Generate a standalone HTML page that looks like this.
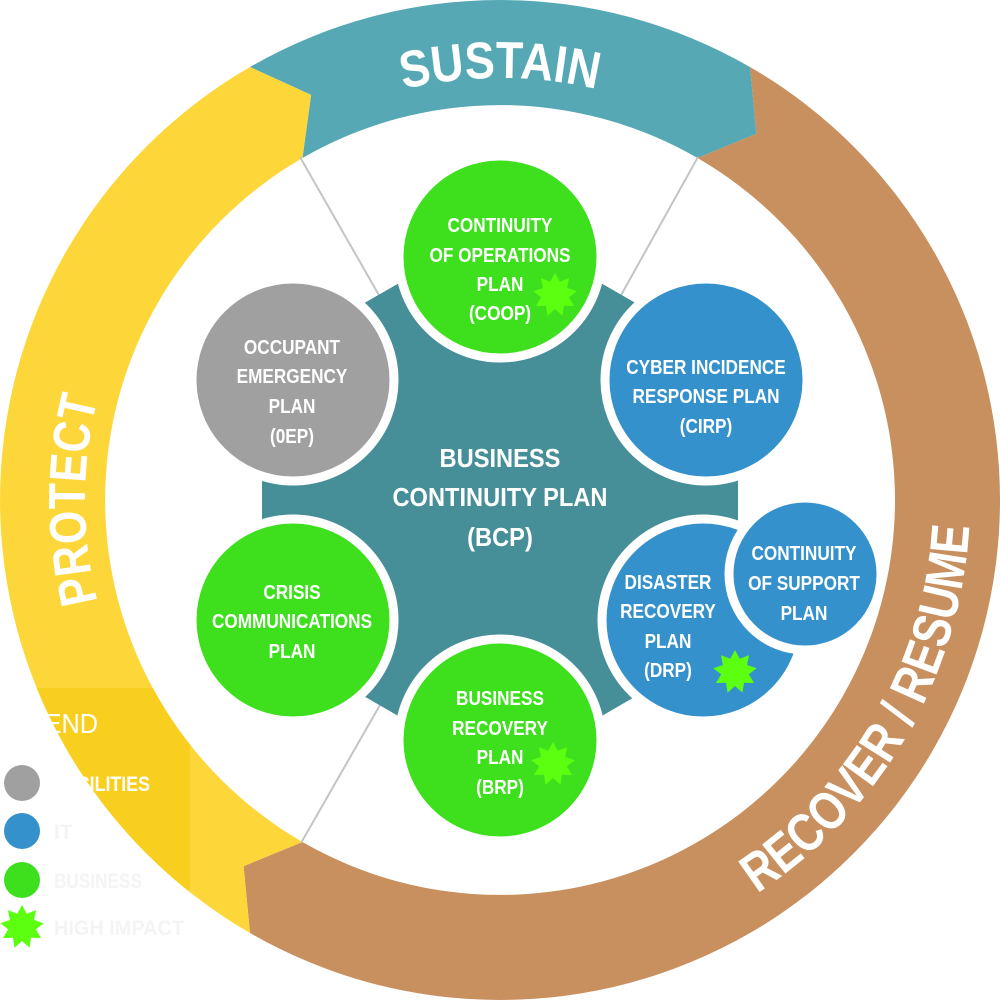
<!DOCTYPE html>
<html><head><meta charset="utf-8"><style>
html,body{margin:0;padding:0;background:#fff;width:1000px;height:1000px;overflow:hidden}
svg{display:block}
text{font-family:"Liberation Sans",sans-serif;font-weight:bold;fill:#fff}
</style></head><body>
<svg width="1000" height="1000" viewBox="0 0 1000 1000" xmlns="http://www.w3.org/2000/svg">
<defs>
<clipPath id="yc"><path d="M250,933 A500,500 0 0 1 250,67 L311.1,94.9 L302.5,158 A395,395 0 0 0 302.5,842 L243.6,866.2 Z"/></clipPath>
<path id="pS" d="M134.5,289 A422,422 0 0 1 865.5,289"/>
<path id="pP" d="M292.5,859.4 A415,415 0 0 1 292.5,140.6"/>
<path id="pR" d="M500,970 A470,470 0 0 0 907,265"/>
<polygon id="star" fill="#5CFF10" points="0,-22 4.8,-13.2 14.1,-16.9 12.1,-7 21.7,-3.8 13.8,2.4 19.1,11 9,10.7 7.5,20.7 0,14 -7.5,20.7 -9,10.7 -19.1,11 -13.8,2.4 -21.7,-3.8 -12.1,-7 -14.1,-16.9 -4.8,-13.2"/>
</defs>
<path fill="#55A8B4" d="M250,67 A500,500 0 0 1 750,67 L756.4,133.8 L697.5,158 A395,395 0 0 0 302.5,158 L311.1,94.9 Z"/>
<path fill="#C88F5F" d="M750,67 A500,500 0 0 1 1000,500 A500,500 0 0 1 250,933 L243.6,866.2 L302.5,842 A395,395 0 0 0 895,500 A395,395 0 0 0 697.5,158 L756.4,133.8 Z"/>
<path fill="#FDD73A" d="M250,933 A500,500 0 0 1 250,67 L311.1,94.9 L302.5,158 A395,395 0 0 0 302.5,842 L243.6,866.2 Z"/>
<rect x="0" y="688" width="190" height="202" fill="#F9CF1F" clip-path="url(#yc)"/>
<text font-size="52" text-anchor="middle"><textPath href="#pS" startOffset="50%" textLength="195" lengthAdjust="spacingAndGlyphs">SUSTAIN</textPath></text>
<text font-size="52" text-anchor="middle"><textPath href="#pP" startOffset="50%" textLength="205" lengthAdjust="spacingAndGlyphs">PROTECT</textPath></text>
<text font-size="54" text-anchor="middle"><textPath href="#pR" startOffset="50%" textLength="440" lengthAdjust="spacingAndGlyphs">RECOVER / RESUME</textPath></text>
<g stroke="#c4c4c4" stroke-width="2">
<line x1="300" y1="157" x2="380" y2="297"/>
<line x1="698" y1="157" x2="620" y2="297"/>
<line x1="301" y1="843" x2="380" y2="705"/>
</g>
<polygon fill="#468F98" points="500,225 738,362 738,637 500,775 262,637 262,362"/>
<g transform="translate(500,0) scale(0.91,1) translate(-500,0)">
<text font-size="26" text-anchor="middle"><tspan x="500" y="467">BUSINESS</tspan><tspan x="500" y="506">CONTINUITY PLAN</tspan><tspan x="500" y="546">(BCP)</tspan></text>
</g>
<g stroke="#fff" stroke-width="9">
<circle cx="500" cy="257" r="101" fill="#3EE01E"/>
<circle cx="293" cy="380" r="101" fill="#A0A0A0"/>
<circle cx="706" cy="380" r="101" fill="#3491CC"/>
<circle cx="293" cy="620" r="101" fill="#3EE01E"/>
<circle cx="500" cy="740" r="101" fill="#3EE01E"/>
<circle cx="703" cy="620" r="101" fill="#3491CC"/>
<circle cx="805" cy="574" r="76" fill="#3491CC"/>
</g>
<g font-size="20" text-anchor="middle">
<g transform="translate(500,0) scale(0.86,1) translate(-500,0)"><text><tspan x="500" y="232">CONTINUITY</tspan><tspan x="500" y="262">OF OPERATIONS</tspan><tspan x="500" y="291">PLAN</tspan><tspan x="500" y="320">(COOP)</tspan></text></g>
<g transform="translate(292,0) scale(0.86,1) translate(-292,0)"><text><tspan x="292" y="354">OCCUPANT</tspan><tspan x="292" y="383">EMERGENCY</tspan><tspan x="292" y="413">PLAN</tspan><tspan x="292" y="443">(0EP)</tspan></text></g>
<g transform="translate(706,0) scale(0.86,1) translate(-706,0)"><text><tspan x="706" y="374">CYBER INCIDENCE</tspan><tspan x="706" y="403">RESPONSE PLAN</tspan><tspan x="706" y="433">(CIRP)</tspan></text></g>
<g transform="translate(292,0) scale(0.86,1) translate(-292,0)"><text><tspan x="292" y="599">CRISIS</tspan><tspan x="292" y="628">COMMUNICATIONS</tspan><tspan x="292" y="658">PLAN</tspan></text></g>
<g transform="translate(500,0) scale(0.86,1) translate(-500,0)"><text><tspan x="500" y="705">BUSINESS</tspan><tspan x="500" y="735">RECOVERY</tspan><tspan x="500" y="764">PLAN</tspan><tspan x="500" y="794">(BRP)</tspan></text></g>
<g transform="translate(668,0) scale(0.86,1) translate(-668,0)"><text><tspan x="668" y="589">DISASTER</tspan><tspan x="668" y="618">RECOVERY</tspan><tspan x="668" y="648">PLAN</tspan><tspan x="668" y="677">(DRP)</tspan></text></g>
<g transform="translate(804,0) scale(0.86,1) translate(-804,0)"><text><tspan x="804" y="560">CONTINUITY</tspan><tspan x="804" y="590">OF SUPPORT</tspan><tspan x="804" y="620">PLAN</tspan></text></g>
</g>
<use href="#star" x="555" y="295"/>
<use href="#star" x="735" y="672"/>
<use href="#star" x="553" y="764"/>
<text font-size="28" x="-6" y="733" style="font-weight:normal" textLength="104" lengthAdjust="spacingAndGlyphs">LEGEND</text>
<circle cx="22" cy="783" r="18" fill="#A0A0A0"/>
<circle cx="22" cy="831" r="18" fill="#3491CC"/>
<circle cx="22" cy="880" r="18" fill="#3EE01E"/>
<use href="#star" x="22" y="927"/>
<g font-size="21">
<text x="54" y="791" textLength="96" lengthAdjust="spacingAndGlyphs">FACILITIES</text>
<text x="54" y="839" style="fill:#f4f4f4">IT</text>
<text x="54" y="888" style="fill:#f4f4f4" textLength="88" lengthAdjust="spacingAndGlyphs">BUSINESS</text>
<text x="54" y="935" style="fill:#f4f4f4" textLength="130" lengthAdjust="spacingAndGlyphs">HIGH IMPACT</text>
</g>
</svg>
</body></html>
